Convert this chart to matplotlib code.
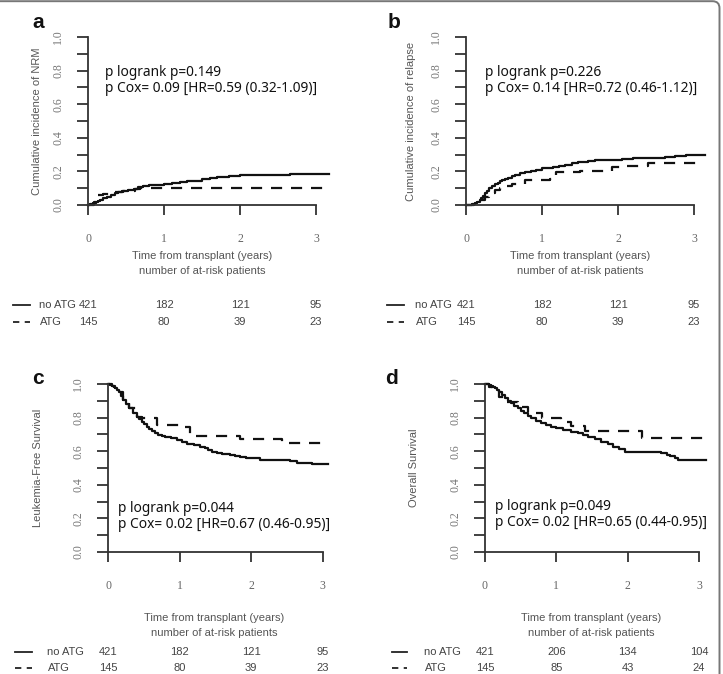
import numpy as np
import matplotlib
matplotlib.use("Agg")
from matplotlib import pyplot as plt
from matplotlib import transforms
from matplotlib.path import Path
from matplotlib.patches import PathPatch

# ---- dados ----
a_t_no = [0, 0.03, 0.06, 0.1, 0.13, 0.16, 0.2, 0.25, 0.3, 0.35, 0.4, 0.46, 0.52, 0.6, 0.66, 0.73, 0.8, 0.9, 1.0, 1.1,
          1.21, 1.3, 1.4, 1.5, 1.6, 1.7, 1.85, 2.0, 2.15, 2.3, 2.66, 3.17]
a_v_no = [0, 0.005, 0.012, 0.02, 0.025, 0.03, 0.04, 0.05, 0.06, 0.07, 0.078, 0.085, 0.09, 0.095, 0.105, 0.115, 0.118,
          0.12, 0.125, 0.13, 0.135, 0.14, 0.145, 0.152, 0.16, 0.165, 0.172, 0.176, 0.178, 0.18, 0.185, 0.185]
a_t_atg = [0, 0.08, 0.13, 0.2, 0.3, 0.45, 0.62, 0.68, 3.17]
a_v_atg = [0, 0.02, 0.06, 0.065, 0.075, 0.085, 0.095, 0.103, 0.103]

b_t_no = [0, 0.08, 0.12, 0.15, 0.18, 0.2, 0.23, 0.25, 0.28, 0.3, 0.34, 0.38, 0.42, 0.45, 0.48, 0.51, 0.55, 0.6, 0.65,
          0.71, 0.78, 0.85, 0.92, 1.0, 1.07, 1.15, 1.22, 1.3, 1.4, 1.47, 1.6, 1.7, 1.85, 2.05, 2.2, 2.4, 2.62, 2.75,
          2.9, 3.05, 3.15]
b_v_no = [0, 0.005, 0.012, 0.02, 0.03, 0.04, 0.055, 0.07, 0.085, 0.1, 0.112, 0.125, 0.133, 0.14, 0.147, 0.153, 0.16,
          0.17, 0.18, 0.19, 0.195, 0.2, 0.21, 0.218, 0.222, 0.228, 0.232, 0.238, 0.25, 0.258, 0.262, 0.265, 0.27,
          0.274, 0.277, 0.28, 0.288, 0.29, 0.295, 0.298, 0.3]
b_t_atg = [0, 0.1, 0.2, 0.25, 0.3, 0.38, 0.45, 0.51, 0.6, 0.77, 1.1, 1.18, 1.5, 1.92, 2.1, 2.4, 3.12]
b_v_atg = [0, 0.005, 0.03, 0.05, 0.07, 0.09, 0.1, 0.113, 0.125, 0.149, 0.155, 0.195, 0.2, 0.225, 0.23, 0.248, 0.248]

c_t_no = [0, 0.03, 0.05, 0.08, 0.1, 0.13, 0.15, 0.18, 0.21, 0.25, 0.3, 0.35, 0.4, 0.44, 0.47, 0.5, 0.54, 0.58, 0.62,
          0.66, 0.7, 0.75, 0.8, 0.88, 0.96, 1.03, 1.1, 1.2, 1.29, 1.35, 1.4, 1.46, 1.52, 1.6, 1.7, 1.78, 1.85, 1.93,
          2.0, 2.13, 2.3, 2.55, 2.64, 2.85, 3.08]
c_v_no = [1.0, 0.995, 0.99, 0.983, 0.976, 0.963, 0.95, 0.93, 0.905, 0.88, 0.855, 0.83, 0.806, 0.79, 0.775, 0.76, 0.746,
          0.733, 0.72, 0.708, 0.696, 0.69, 0.685, 0.676, 0.667, 0.656, 0.645, 0.636, 0.627, 0.62, 0.61, 0.598, 0.587,
          0.582, 0.578, 0.572, 0.567, 0.562, 0.558, 0.548, 0.545, 0.542, 0.528, 0.525, 0.522]
c_t_atg = [0, 0.05, 0.1, 0.15, 0.21, 0.3, 0.4, 0.48, 0.68, 1.0, 1.15, 1.85, 2.43, 3.05]
c_v_atg = [1.0, 0.99, 0.975, 0.95, 0.905, 0.855, 0.806, 0.795, 0.756, 0.746, 0.692, 0.67, 0.65, 0.65]

d_t_no = [0, 0.05, 0.08, 0.11, 0.14, 0.17, 0.2, 0.24, 0.28, 0.32, 0.37, 0.41, 0.46, 0.5, 0.55, 0.6, 0.65, 0.72, 0.78,
          0.85, 0.93, 1.0, 1.1, 1.2, 1.3, 1.38, 1.45, 1.54, 1.63, 1.72, 1.8, 1.88, 1.96, 2.2, 2.47, 2.55, 2.6, 2.66,
          2.71, 3.1]
d_v_no = [1.0, 0.995, 0.99, 0.985, 0.978, 0.965, 0.95, 0.932, 0.915, 0.9, 0.885, 0.87, 0.855, 0.84, 0.825, 0.81, 0.796,
          0.782, 0.77, 0.758, 0.746, 0.737, 0.725, 0.715, 0.706, 0.697, 0.685, 0.67, 0.657, 0.642, 0.627, 0.612,
          0.597, 0.594, 0.587, 0.58, 0.57, 0.558, 0.548, 0.548]
d_t_atg = [0, 0.05, 0.1, 0.2, 0.3, 0.46, 0.6, 0.8, 1.07, 1.2, 1.4, 2.2, 3.1]
d_v_atg = [1.0, 0.98, 0.963, 0.92, 0.89, 0.865, 0.825, 0.8, 0.776, 0.75, 0.722, 0.677, 0.677]

ylabels = ["Cumulative incidence of NRM", "Cumulative incidence of relapse",
           "Leukemia-Free Survival", "Overall Survival"]
stats = [("p logrank p=0.149", "p Cox= 0.09 [HR=0.59 (0.32-1.09)]"),
         ("p logrank p=0.226", "p Cox= 0.14 [HR=0.72 (0.46-1.12)]"),
         ("p logrank p=0.044", "p Cox= 0.02 [HR=0.67 (0.46-0.95)]"),
         ("p logrank p=0.049", "p Cox= 0.02 [HR=0.65 (0.44-0.95)]")]
risk_no = [[421, 182, 121, 95], [421, 182, 121, 95], [421, 182, 121, 95], [421, 206, 134, 104]]
risk_atg = [[145, 80, 39, 23], [145, 80, 39, 23], [145, 80, 39, 23], [145, 85, 43, 24]]
letras = ["a", "b", "c", "d"]
x_ticks = [0, 1, 2, 3]
y_ticks = np.round(np.arange(0, 1.01, 0.1), 1)

W, H = 723, 674
fig = plt.figure(figsize=(W / 100, H / 100), dpi=100)

def fx(x):
    return x / W

def fy(y):
    return 1 - y / H

# layout em pixels
layout = [
    dict(x0=88, y0=205, ppy=76, ylab_x=37, txt=(105, 72), lab=(38, 23),
         time_x=202, time_y=256, rows=(305, 322), line_x=(13, 30), name_x=39),
    dict(x0=466, y0=205, ppy=76, ylab_x=411, txt=(485, 72), lab=(394, 23),
         time_x=580, time_y=256, rows=(305, 322), line_x=(387, 404), name_x=415),
    dict(x0=108, y0=552, ppy=71.5, ylab_x=38, txt=(118, 508), lab=(38, 379),
         time_x=214, time_y=618, rows=(652, 668), line_x=(15, 32), name_x=47),
    dict(x0=485, y0=552, ppy=71.3, ylab_x=414, txt=(495, 507), lab=(392, 379),
         time_x=591, time_y=618, rows=(652, 668), line_x=(392, 407), name_x=424),
]
curvas = [(a_t_no, a_v_no, a_t_atg, a_v_atg), (b_t_no, b_v_no, b_t_atg, b_v_atg),
          (c_t_no, c_v_no, c_t_atg, c_v_atg), (d_t_no, d_v_no, d_t_atg, d_v_atg)]

eixo_cor = "#333333"
cinza = "#555555"
xmax = 3.2

for i in range(4):
    L = layout[i]
    width = xmax * L["ppy"]
    ax = fig.add_axes([fx(L["x0"]), fy(L["y0"]), width / W, 168 / H])
    t1, v1, t2, v2 = curvas[i]
    ax.step(t1, v1, where="post", color="#111111", lw=1.6, clip_on=False)
    ax.step(t2, v2, where="post", color="#111111", lw=1.6, ls=(0, (5, 4)), clip_on=False)
    ax.set_xlim(0, xmax)
    ax.set_ylim(0, 1)
    ax.set_facecolor("none")
    for s in ["top", "right"]:
        ax.spines[s].set_visible(False)
    ax.spines["left"].set_bounds(0, 1)
    ax.spines["bottom"].set_bounds(0, 3)
    for s in ["left", "bottom"]:
        ax.spines[s].set_color(eixo_cor)
        ax.spines[s].set_linewidth(1.3)
    ax.set_xticks(x_ticks)
    ax.set_xticklabels([str(x) for x in x_ticks], family="Liberation Serif", fontsize=8.5, color="#666666")
    ax.set_yticks(y_ticks)
    ax.set_yticklabels([f"{y:.1f}" if round(y * 10) % 2 == 0 else "" for y in y_ticks],
                       family="Liberation Serif", fontsize=8.5, color="#777777", rotation=90, va="center")
    ax.tick_params(axis="x", length=7.2, width=1.3, color=eixo_cor, pad=13)
    ax.tick_params(axis="y", length=8, width=1.3, color=eixo_cor, pad=9)

    fig.text(fx(L["ylab_x"]), fy(L["y0"] - 84), ylabels[i], rotation=90, ha="center", va="center",
             family="Liberation Sans", fontsize=8, color=cinza)
    fig.text(fx(L["lab"][0]), fy(L["lab"][1]), letras[i], ha="center", va="center",
             family="Liberation Sans", fontsize=15, fontweight="bold", color="#111111")
    fig.text(fx(L["txt"][0]), fy(L["txt"][1]), stats[i][0], ha="left", va="center",
             family="Noto Sans", fontsize=9.9, color="#111111")
    fig.text(fx(L["txt"][0]), fy(L["txt"][1] + 16), stats[i][1], ha="left", va="center",
             family="Noto Sans", fontsize=9.9, color="#111111")
    fig.text(fx(L["time_x"]), fy(L["time_y"]), "Time from transplant (years)", ha="center", va="center",
             family="Liberation Sans", fontsize=8, color=cinza)
    fig.text(fx(L["time_x"]), fy(L["time_y"] + 15), "number of at-risk patients", ha="center", va="center",
             family="Liberation Sans", fontsize=8, color=cinza)

    # tabela de pacientes em risco
    tr = transforms.blended_transform_factory(ax.transData, fig.transFigure)
    r1, r2 = L["rows"]
    for k, x in enumerate(x_ticks):
        fig.text(x, fy(r1), str(risk_no[i][k]), transform=tr, ha="center", va="center",
                 family="Liberation Sans", fontsize=8, color="#444444")
        fig.text(x, fy(r2), str(risk_atg[i][k]), transform=tr, ha="center", va="center",
                 family="Liberation Sans", fontsize=8, color="#444444")
    lx0, lx1 = L["line_x"]
    fig.add_artist(plt.Line2D([fx(lx0), fx(lx1)], [fy(r1), fy(r1)], color="#222222", lw=1.3))
    fig.add_artist(plt.Line2D([fx(lx0), fx(lx1)], [fy(r2), fy(r2)], color="#222222", lw=1.3,
                              ls=(0, (3.5, 3))))
    fig.text(fx(L["name_x"]), fy(r1), "no ATG", ha="left", va="center",
             family="Liberation Sans", fontsize=8, color="#444444")
    fig.text(fx(L["name_x"] + 1), fy(r2), "ATG", ha="left", va="center",
             family="Liberation Sans", fontsize=8, color="#444444")

# moldura (topo e lado direito com canto arredondado)
r = 7
verts = [(-5, H - 1.2), (719.5 - r, H - 1.2), (719.5, H - 1.2), (719.5, H - 1.2 - r), (719.5, -5)]
codes = [Path.MOVETO, Path.LINETO, Path.CURVE3, Path.CURVE3, Path.LINETO]
verts = [(vx / 100, vy / 100) for vx, vy in verts]
fig.add_artist(PathPatch(Path(verts, codes), transform=fig.dpi_scale_trans, fill=False,
                         edgecolor="#777777", lw=1.4))

fig.savefig("out.png", dpi=100)
